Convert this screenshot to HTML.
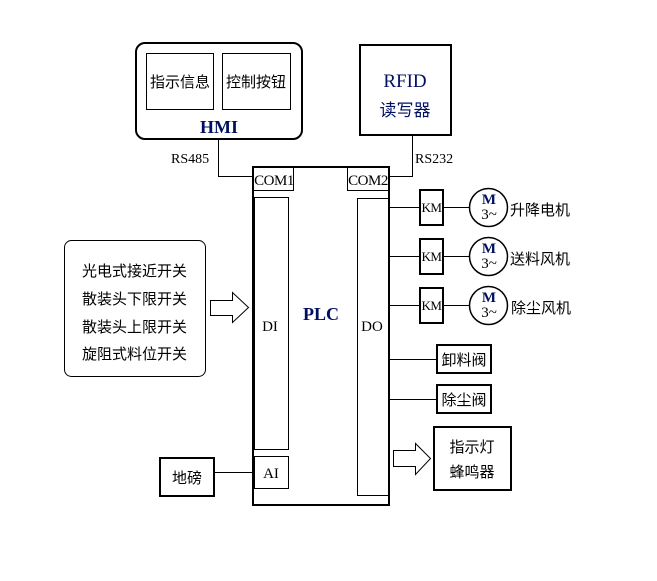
<!DOCTYPE html>
<html><head><meta charset="utf-8"><style>
body{margin:0;background:#fff}
svg text{font-family:"Liberation Serif","Noto Serif CJK SC","Noto Sans CJK SC",serif;}
.c{font-family:"Noto Sans CJK SC","WenQuanYi Zen Hei",sans-serif !important}
</style></head><body>
<svg width="657" height="576" xmlns="http://www.w3.org/2000/svg" fill="none" stroke="#000">
<!-- HMI -->
<rect x="136" y="43" width="166" height="96" rx="9" stroke-width="2"/>
<rect x="146.5" y="53.5" width="67" height="56"/>
<rect x="222.5" y="53.5" width="68" height="56"/>
<g fill="#000" stroke="none" font-size="15">
<text class="c" x="180" y="87" text-anchor="middle">指示信息</text>
<text class="c" x="256" y="87" text-anchor="middle">控制按钮</text>
<text x="219" y="133" text-anchor="middle" font-size="18" font-weight="bold" fill="#001060">HMI</text>
</g>
<!-- RFID -->
<rect x="360" y="45" width="91" height="90" stroke-width="2"/>
<g stroke="none" fill="#001060" font-size="19" text-anchor="middle">
<text x="405" y="87">RFID</text>
<text class="c" x="405" y="116" font-size="17">读写器</text>
</g>
<!-- connectors top -->
<polyline points="218.5,139 218.5,176.5 253,176.5"/>
<polyline points="412.5,135 412.5,176.5 389,176.5"/>
<g fill="#000" stroke="none" font-size="14">
<text x="171" y="163">RS485</text>
<text x="415" y="163">RS232</text>
</g>
<!-- PLC -->
<rect x="253" y="167" width="136" height="338" stroke-width="2"/>
<rect x="253.5" y="167.5" width="40" height="23"/>
<rect x="347.5" y="167.5" width="41" height="23"/>
<rect x="254.5" y="197.5" width="34" height="252"/>
<rect x="254.5" y="456.5" width="34" height="32"/>
<rect x="357.5" y="198.5" width="31" height="297"/>
<g fill="#000" stroke="none" font-size="15" text-anchor="middle">
<text x="274" y="185" letter-spacing="-0.5">COM1</text>
<text x="368" y="185" letter-spacing="-0.5">COM2</text>
<text x="270" y="331">DI</text>
<text x="372" y="331">DO</text>
<text x="271" y="478">AI</text>
<text x="321" y="320" font-size="18" font-weight="bold" fill="#001060">PLC</text>
</g>
<!-- inputs -->
<rect x="64.5" y="240.5" width="141" height="136" rx="7"/>
<g fill="#000" stroke="none" font-size="15">
<text class="c" x="82" y="276">光电式接近开关</text>
<text class="c" x="82" y="304">散装头下限开关</text>
<text class="c" x="82" y="332">散装头上限开关</text>
<text class="c" x="82" y="359">旋阻式料位开关</text>
</g>
<polygon points="210.5,300.5 232.5,300.5 232.5,292.5 248.5,307.5 232.5,322.5 232.5,315.5 210.5,315.5"/>
<rect x="160" y="458" width="54" height="38" stroke-width="2"/>
<text class="c" x="187" y="483" fill="#000" stroke="none" font-size="15" text-anchor="middle">地磅</text>
<line x1="214" y1="472.5" x2="253" y2="472.5"/>
<!-- outputs -->
<g>
<line x1="389" y1="207.5" x2="420" y2="207.5"/><line x1="443" y1="207.5" x2="469" y2="207.5"/>
<line x1="389" y1="256.5" x2="420" y2="256.5"/><line x1="443" y1="256.5" x2="469" y2="256.5"/>
<line x1="389" y1="305.5" x2="420" y2="305.5"/><line x1="443" y1="305.5" x2="469" y2="305.5"/>
<rect x="420" y="190" width="23" height="35" stroke-width="2"/>
<rect x="420" y="239" width="23" height="35" stroke-width="2"/>
<rect x="420" y="288" width="23" height="35" stroke-width="2"/>
<circle cx="488.5" cy="207.5" r="19" stroke-width="1.5"/>
<circle cx="488.5" cy="256.5" r="19" stroke-width="1.5"/>
<circle cx="488.5" cy="305.5" r="19" stroke-width="1.5"/>
</g>
<g fill="#000" stroke="none" font-size="13" text-anchor="middle">
<text x="431.5" y="212" letter-spacing="-0.5">KM</text><text x="431.5" y="261" letter-spacing="-0.5">KM</text><text x="431.5" y="310" letter-spacing="-0.5">KM</text>
<text x="489" y="204" font-size="15" font-weight="bold" fill="#001060">M</text>
<text x="489" y="253" font-size="15" font-weight="bold" fill="#001060">M</text>
<text x="489" y="302" font-size="15" font-weight="bold" fill="#001060">M</text>
<text x="489" y="219" font-size="15">3~</text>
<text x="489" y="268" font-size="15">3~</text>
<text x="489" y="317" font-size="15">3~</text>
</g>
<g fill="#000" stroke="none" font-size="15">
<text class="c" x="510" y="215">升降电机</text>
<text class="c" x="510" y="264">送料风机</text>
<text class="c" x="511" y="313">除尘风机</text>
</g>
<line x1="389" y1="359.5" x2="437" y2="359.5"/>
<line x1="389" y1="399.5" x2="437" y2="399.5"/>
<rect x="437" y="345" width="54" height="28" stroke-width="2"/>
<rect x="437" y="385" width="54" height="28" stroke-width="2"/>
<rect x="434" y="427" width="77" height="63" stroke-width="2"/>
<polygon points="393.5,450.5 415.5,450.5 415.5,443.5 430.5,458.5 415.5,474.5 415.5,466.5 393.5,466.5"/>
<g fill="#000" stroke="none" font-size="15" text-anchor="middle">
<text class="c" x="464" y="365">卸料阀</text>
<text class="c" x="464" y="405">除尘阀</text>
<text class="c" x="472" y="452">指示灯</text>
<text class="c" x="472" y="477">蜂鸣器</text>
</g>
</svg>
</body></html>
